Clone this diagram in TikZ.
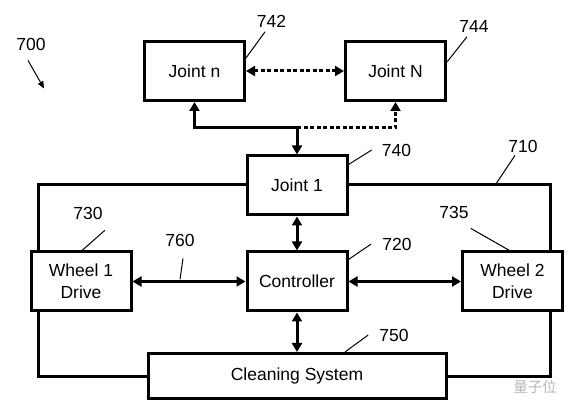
\documentclass[tikz,border=0pt]{standalone}
\usepackage{fontspec}
\setmainfont{Liberation Sans}
\newfontfamily\cjk{Noto Sans CJK SC}
\usetikzlibrary{arrows.meta}
\tikzset{
  box/.style={draw,line width=3pt,fill=white,minimum width=100pt,minimum height=59pt,inner sep=0pt,align=center},
  num/.style={inner sep=0pt},
  link/.style={line width=3pt,>={Triangle[length=9pt,width=10pt]}},
  dots/.style={link,dash pattern=on 4pt off 2.5pt},
  lead/.style={line width=1pt},
}
\begin{document}
\begin{tikzpicture}[x=1pt,y=-1pt,font=\fontsize{17.5}{22}\selectfont]
  \useasboundingbox (0,0) rectangle (574,414);
  % loop 710 behind the boxes
  \draw[line width=3pt] (38.5,185) rectangle (550.5,376.5);
  \node (jointn) [box] at (194.5,71) {Joint n};
  \node (jointN) [box] at (395.5,71) {Joint N};
  \node (joint1) [box] at (297,185.5) {Joint 1};
  \node (ctrl) [box] at (297,281.5) {Controller};
  \node (wheel1) [box] at (81,281.5) {Wheel 1\\Drive};
  \node (wheel2) [box] at (512.5,281.5) {Wheel 2\\Drive};
  \node (clean) [box,minimum width=298pt,minimum height=45pt] at (297,376) {Cleaning System};
  \coordinate (split) at (297,128);
  \draw[link,->] (split) -| (jointn);
  \draw[link,->] (split) -- (joint1);
  \draw[dots,->] (split) -| (jointN);
  \draw[dots,<->] (jointn) -- (jointN);
  \draw[link,<->] (joint1) -- (ctrl);
  \draw[link,<->] (ctrl) -- (clean);
  \draw[link,<->] (wheel1) -- (ctrl);
  \draw[link,<->] (ctrl) -- (wheel2);
  % reference numerals
  \node (700) [num] at (31,44) {700};
  \node (742) [num] at (271.5,21) {742};
  \node (744) [num] at (474,26) {744};
  \node (740) [num] at (396.5,150) {740};
  \node (710) [num] at (523,146) {710};
  \node (730) [num] at (88,213) {730};
  \node (760) [num] at (180,240) {760};
  \node (720) [num] at (397,244) {720};
  \node (735) [num] at (454,212) {735};
  \node (750) [num] at (394,335) {750};
  \draw[lead,-{Triangle[length=7pt,width=6pt]}] ([xshift=-3pt,yshift=-10pt]700.south) -- ++(16,28);
  \draw[lead] ([xshift=-6.5pt,yshift=-4.5pt]742.south) -- ([yshift=-18pt]jointn.north east);
  \draw[lead] ([xshift=-7pt,yshift=-4.5pt]744.south) -- ([yshift=-22pt]jointN.north east);
  \draw[lead] ([xshift=-10pt]740.west) -- ([yshift=-10pt]joint1.north east);
  \draw[lead] ([xshift=-8pt,yshift=-3pt]710.south) -- ++(-20,30);
  \draw[lead] ([xshift=2pt,yshift=-11pt]730.south east) -- ([xshift=1pt]wheel1.north);
  \draw[lead] ([xshift=3pt,yshift=-12pt]760.south) -- ++(-3,21);
  \draw[lead] ([xshift=-11pt]720.west) -- ([yshift=-9pt]ctrl.north east);
  \draw[lead] ([xshift=2pt,yshift=-10pt]735.south east) -- ([xshift=-3pt]wheel2.north);
  \draw[lead] ([xshift=-11pt]750.west) -- ([xshift=48pt]clean.north);
  \node (mark) [text=gray!55,font=\cjk\fontsize{14.5}{14.5}\selectfont] at (535,387) {量子位};
\end{tikzpicture}
\end{document}
